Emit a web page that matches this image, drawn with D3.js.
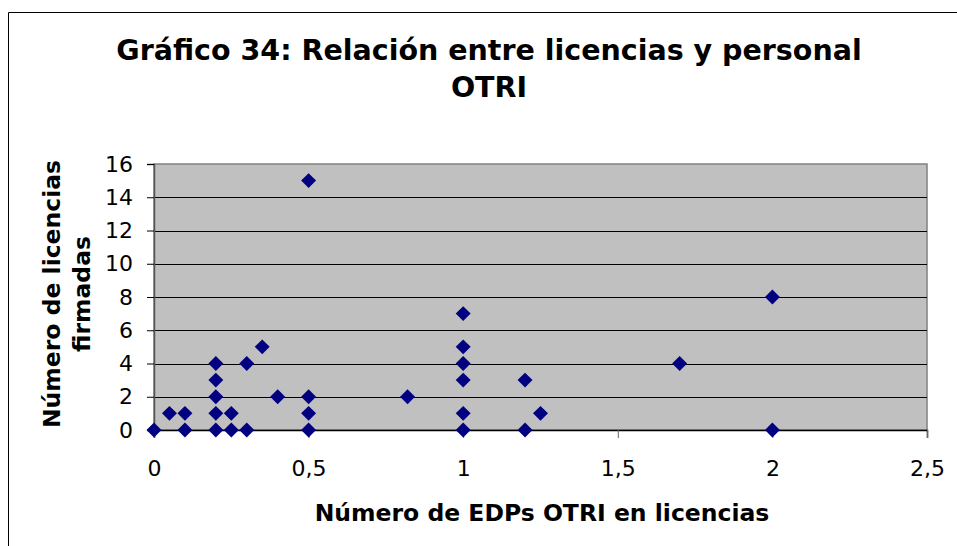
<!DOCTYPE html>
<html>
<head>
<meta charset="utf-8">
<script src="https://cdnjs.cloudflare.com/ajax/libs/d3/7.8.5/d3.min.js"></script>
<style>
  html, body { margin: 0; padding: 0; background: #fff; }
  svg { display: block; }
  text { font-family: "DejaVu Sans", Verdana, sans-serif; fill: #000; }
</style>
</head>
<body>
<svg id="chart" width="957" height="546"></svg>
<script>
// EDPs OTRI dedicated to licensing (x) vs. number of licences signed (y)
const edps = [0, 0.05, 0.1, 0.1, 0.2, 0.2, 0.2, 0.2, 0.2, 0.25, 0.25, 0.3, 0.3, 0.35, 0.4,
              0.5, 0.5, 0.5, 0.5, 0.82, 1, 1, 1, 1, 1, 1, 1.2, 1.2, 1.25, 1.7, 2, 2];
const licencias = [0, 1, 1, 0, 0, 1, 2, 3, 4, 0, 1, 0, 4, 5, 2,
                   0, 1, 2, 15, 2, 0, 1, 3, 4, 5, 7, 0, 3, 1, 4, 8, 0];
const xTicks = [0, 0.5, 1, 1.5, 2, 2.5];
const yTicks = [0, 2, 4, 6, 8, 10, 12, 14, 16];

const titleLines = ["Gráfico 34: Relación entre licencias y personal", "OTRI"];
const xTitle = "Número de EDPs OTRI en licencias";
const yTitleLines = ["Número de licencias", "firmadas"];

const svg = d3.select("#chart");
const plot = { left: 154, top: 164, right: 927, bottom: 430 };

// chart frame
svg.append("path")
  .attr("d", "M8.5,546 V12.5 H957")
  .attr("fill", "none").attr("stroke", "#000").attr("stroke-width", 1);

const x = d3.scaleLinear().domain([0, 2.5]).range([plot.left, plot.right]);
const y = d3.scaleLinear().domain([0, 16]).range([plot.bottom, plot.top]);

// plot background
svg.append("rect")
  .attr("x", plot.left).attr("y", plot.top)
  .attr("width", plot.right - plot.left).attr("height", plot.bottom - plot.top)
  .attr("fill", "#c0c0c0").attr("stroke", "#808080").attr("stroke-width", 1.5);

// horizontal gridlines
svg.append("g").selectAll("line")
  .data(yTicks.filter(v => v > 0 && v < 16))
  .join("line")
  .attr("x1", plot.left).attr("x2", plot.right)
  .attr("y1", d => Math.round(y(d)) + 0.5).attr("y2", d => Math.round(y(d)) + 0.5)
  .attr("stroke", "#000").attr("stroke-width", 1.2);

// y axis
const yAxis = svg.append("g")
  .attr("transform", `translate(${plot.left},0)`)
  .call(d3.axisLeft(y).tickValues(yTicks).tickSize(7).tickPadding(14).tickFormat(d3.format("d")));
yAxis.select(".domain").attr("stroke", "#555").attr("stroke-width", 1.5);
yAxis.selectAll(".tick line").attr("stroke", "#000");
yAxis.selectAll("text").attr("font-size", 22).attr("font-family", "DejaVu Sans").attr("fill", "#000");

// x axis
const xAxis = svg.append("g")
  .attr("transform", `translate(0,${plot.bottom})`)
  .call(d3.axisBottom(x).tickValues(xTicks).tickSize(8).tickPadding(22)
    .tickFormat(d => d3.format("")(d).replace(".", ",")));
xAxis.select(".domain").attr("stroke", "#000").attr("stroke-width", 1.5);
xAxis.selectAll(".tick line").attr("stroke", "#666");
xAxis.selectAll("text").attr("font-size", 22).attr("font-family", "DejaVu Sans").attr("fill", "#000");

// diamond markers
const diamond = d3.symbol().type(d3.symbolSquare).size(112);
svg.append("g").selectAll("path")
  .data(edps.map((v, i) => [v, licencias[i]]))
  .join("path")
  .attr("d", diamond)
  .attr("transform", d => `translate(${x(d[0])},${y(d[1])}) rotate(45)`)
  .attr("fill", "#000080");

// titles
svg.append("text")
  .attr("x", 489).attr("y", 60).attr("text-anchor", "middle")
  .attr("font-size", 28.5).attr("font-weight", "bold")
  .selectAll("tspan").data(titleLines).join("tspan")
  .attr("x", 489).attr("dy", (d, i) => i ? 37 : 0)
  .text(d => d);

svg.append("text")
  .attr("x", 542).attr("y", 521).attr("text-anchor", "middle")
  .attr("font-size", 23.5).attr("font-weight", "bold")
  .text(xTitle);

svg.append("text")
  .attr("transform", "translate(60,294) rotate(-90)")
  .attr("text-anchor", "middle")
  .attr("font-size", 23.5).attr("font-weight", "bold")
  .selectAll("tspan").data(yTitleLines).join("tspan")
  .attr("x", 0).attr("dy", (d, i) => i ? 30 : 0)
  .text(d => d);
</script>
</body>
</html>
